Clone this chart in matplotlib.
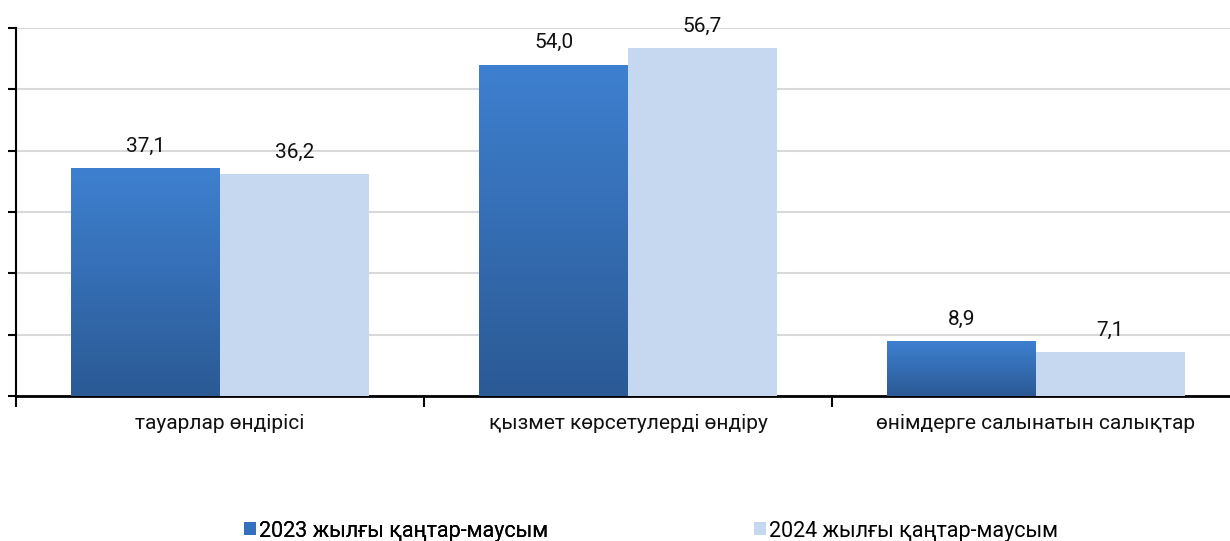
import matplotlib
matplotlib.use("Agg")
import matplotlib.pyplot as plt
import numpy as np
from matplotlib.colors import LinearSegmentedColormap
from matplotlib.patches import Patch

categories = ["тауарлар өндірісі", "қызмет көрсетулерді өндіру", "өнімдерге салынатын салықтар"]
series_names = ["2023 жылғы қаңтар-маусым", "2024 жылғы қаңтар-маусым"]
values_2023 = [37.1, 54.0, 8.9]
values_2024 = [36.2, 56.7, 7.1]

plt.rcParams['font.family'] = ['Roboto', 'DejaVu Sans']

W, H = 1230, 541
fig = plt.figure(figsize=(W / 100, H / 100), dpi=100)
ax_left = 16 / W
ax_right = 1240 / W
ax_bottom = 1 - 396 / H
ax_top = 1 - 28 / H
ax = fig.add_axes([ax_left, ax_bottom, ax_right - ax_left, ax_top - ax_bottom])

x = np.arange(len(categories))
bw = 0.365
dark_cmap = LinearSegmentedColormap.from_list("dk", ["#2b5a95", "#3e80d0"])
light_color = "#c6d8ef"

bars1 = ax.bar(x - bw / 2, values_2023, width=bw, color="#3470bb", zorder=3,
               label=series_names[0])
bars2 = ax.bar(x + bw / 2, values_2024, width=bw, color=light_color, zorder=3,
               label=series_names[1])

grad = np.linspace(0, 1, 256).reshape(-1, 1)
for b in bars1:
    b.set_facecolor("none")
    x0, w, h = b.get_x(), b.get_width(), b.get_height()
    im = ax.imshow(grad, extent=(x0, x0 + w, 0, h), origin="lower", cmap=dark_cmap,
                   aspect="auto", zorder=3, interpolation="bilinear")
    im.set_clip_path(b)

for bars, vals in ((bars1, values_2023), (bars2, values_2024)):
    for b, v in zip(bars, vals):
        ax.annotate(f"{v:.1f}".replace(".", ","),
                    (b.get_x() + b.get_width() / 2, b.get_height()),
                    xytext=(0, 9), textcoords="offset points",
                    ha="center", va="bottom", fontsize=15, color="#111111", zorder=5)

ax.set_ylim(0, 60)
ax.set_xlim(-0.5, 2.5)
ax.set_yticks(np.arange(0, 61, 10))
ax.set_yticklabels([])
ax.tick_params(axis="y", direction="out", length=6, width=1.5, color="black")
ax.yaxis.grid(True, color="#d9d9d9", linewidth=1.5, zorder=0)
ax.set_axisbelow(True)

ax.set_xticks([-0.5, 0.5, 1.5, 2.5])
ax.set_xticklabels([])
ax.tick_params(axis="x", which="major", direction="out", length=8, width=1.5, color="black")
ax.set_xticks(x, minor=True)
ax.set_xticklabels(categories, minor=True, fontsize=15, color="#111111")
ax.tick_params(axis="x", which="minor", length=0, pad=13)

for s in ("top", "right"):
    ax.spines[s].set_visible(False)
ax.spines["left"].set_linewidth(1.5)
ax.spines["bottom"].set_linewidth(2)

# legend
handles = [Patch(facecolor="#3470bb"), Patch(facecolor=light_color)]
leg_kw = dict(loc="center left", frameon=False, fontsize=15.5,
              handlelength=0.55, handleheight=0.55, handletextpad=0.18, borderpad=0)
leg1 = fig.legend([handles[0]], [series_names[0]],
                  bbox_to_anchor=(233 / W, 1 - 531 / H), **leg_kw)
leg2 = fig.legend([handles[1]], [series_names[1]],
                  bbox_to_anchor=(743 / W, 1 - 531 / H), **leg_kw)
fig.add_artist(leg1)

fig.savefig("out.png", dpi=100)
